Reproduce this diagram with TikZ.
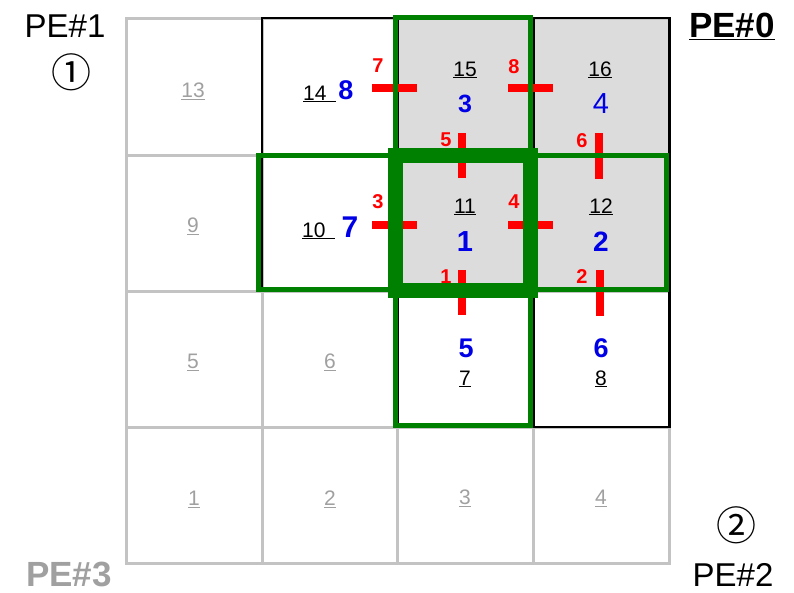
\documentclass[tikz,border=0pt]{standalone}
\usepackage{fontspec}
\setmainfont{Liberation Sans}
\newfontfamily\cjk{Noto Sans CJK JP}
\definecolor{cellgray}{RGB}{195,195,195}
\definecolor{fillgray}{RGB}{220,220,220}
\definecolor{numgray}{RGB}{160,160,160}
\definecolor{boxgreen}{RGB}{0,128,0}
\definecolor{barred}{RGB}{255,0,0}
\definecolor{numblue}{RGB}{0,0,230}
\newcommand{\fsz}[1]{\fontsize{#1}{#1}\selectfont}
\begin{document}
\begin{tikzpicture}[x=1pt,y=-1pt,
  gcell/.style={draw=cellgray,line width=3pt},
  bcell/.style={draw=black,line width=2.5pt},
  gbox/.style={draw=boxgreen,line width=5pt},
  gboxthick/.style={draw=boxgreen,line width=15pt},
  rbar/.style={draw=barred,line width=7.5pt},
  gnum/.style={text=numgray,font=\fsz{21},anchor=base,inner sep=0pt},
  knum/.style={text=black,font=\fsz{21},anchor=base,inner sep=0pt},
  bnum/.style={text=numblue,font=\bfseries\fsz{27},anchor=base,inner sep=0pt},
  rlab/.style={text=barred,font=\bfseries\fsz{20},anchor=center,inner sep=0pt},
  pelab/.style={text=black,inner sep=0pt}]
\useasboundingbox (0,0) rectangle (794,592);
% gray fill of PE#0 cells
\fill[fillgray] (397.5,18) rectangle (669.5,291);
% gray grid
\foreach \xl/\xr in {126/262,262/397.5,397.5/533.5,533.5/669.5}
  \foreach \yt/\yb in {18/155,155/291,291/427,427/563}
    \draw[gcell] (\xl,\yt) rectangle (\xr,\yb);
% black cells
\foreach \xl/\xr/\yt/\yb in {262/397.5/18/155,397.5/533.5/18/155,533.5/669.5/18/155,
  262/397.5/155/291,397.5/533.5/155/291,533.5/669.5/155/291,
  397.5/533.5/291/427,533.5/669.5/291/427}
  \draw[bcell] (\xl,\yt) rectangle (\xr,\yb);
% red bars
\draw[rbar] (372,88) -- (417,88);
\draw[rbar] (508,88) -- (553,88);
\draw[rbar] (372,225) -- (417,225);
\draw[rbar] (508,225) -- (553,225);
\draw[rbar] (462,133) -- (462,178);
\draw[rbar] (599,133) -- (599,179);
\draw[rbar] (462,270) -- (462,315);
\draw[rbar] (600,270) -- (600,316);
% green boxes
\draw[gbox] (395.5,17.5) rectangle (530.5,425.5);
\draw[gbox] (258.5,155.5) rectangle (666.5,289.5);
\draw[gboxthick] (395,155) rectangle (530.5,290.5);
% gray cell numbers
\node[gnum] (n13) at (193,97.5) {\underline{13}};
\node[gnum] (n9) at (193,232.5) {\underline{9}};
\node[gnum] (n5) at (193,368.5) {\underline{5}};
\node[gnum] (n6) at (330,368.5) {\underline{6}};
\node[gnum] (n1) at (194,505.5) {\underline{1}};
\node[gnum] (n2) at (330,505.5) {\underline{2}};
\node[gnum] (n3) at (465,504.5) {\underline{3}};
\node[gnum] (n4) at (601,504.5) {\underline{4}};
% black cell numbers
\node[knum,anchor=base west] (n14) at (303,100) {\underline{14\hspace{9pt}}};
\node[knum,anchor=base west] (n10) at (302,237) {\underline{10\hspace{9pt}}};
\node[knum] (n15) at (465,76) {\underline{15}};
\node[knum] (n16) at (600,76) {\underline{16}};
\node[knum] (n11) at (465,213) {\underline{11}};
\node[knum] (n12) at (601,213) {\underline{12}};
\node[knum] (n7) at (465,385) {\underline{7}};
\node[knum] (n8) at (601,385) {\underline{8}};
% blue numbers
\node[bnum] (b8) at (346,99) {8};
\node[bnum,font=\bfseries\fsz{30}] (b7) at (350,237) {7};
\node[bnum,font=\bfseries\fsz{25}] (b3) at (465,112) {3};
\node[bnum,font=\fsz{29}] (b4) at (601,113) {4};
\node[bnum,font=\bfseries\fsz{29}] (b1) at (465,251) {1};
\node[bnum,font=\bfseries\fsz{28}] (b2) at (601,251) {2};
\node[bnum] (b5) at (466,357) {5};
\node[bnum] (b6) at (601,357) {6};
% red labels
\node[rlab] (r7) at (378,66) {7};
\node[rlab] (r8) at (514,67) {8};
\node[rlab] (r5) at (446,140) {5};
\node[rlab] (r6) at (582,141) {6};
\node[rlab] (r3) at (378,202) {3};
\node[rlab] (r4) at (514,202) {4};
\node[rlab] (r1) at (446,277) {1};
\node[rlab] (r2) at (582,277) {2};
% PE labels
\node[pelab,font=\fsz{33}] (pe1) at (65,26) {PE\#1};
\node[pelab,font=\cjk\fsz{40}] (c1) at (71,72) {①};
\node[pelab,font=\bfseries\fsz{35},anchor=base] (pe0) at (732,37) {\underline{PE\#0}};
\node[pelab,text=numgray,font=\bfseries\fsz{35},anchor=base] (pe3) at (69,586) {PE\#3};
\node[pelab,font=\fsz{33},anchor=base] (pe2) at (733,586) {PE\#2};
\node[pelab,font=\cjk\fsz{40}] (c2) at (736,525) {②};
\end{tikzpicture}
\end{document}
